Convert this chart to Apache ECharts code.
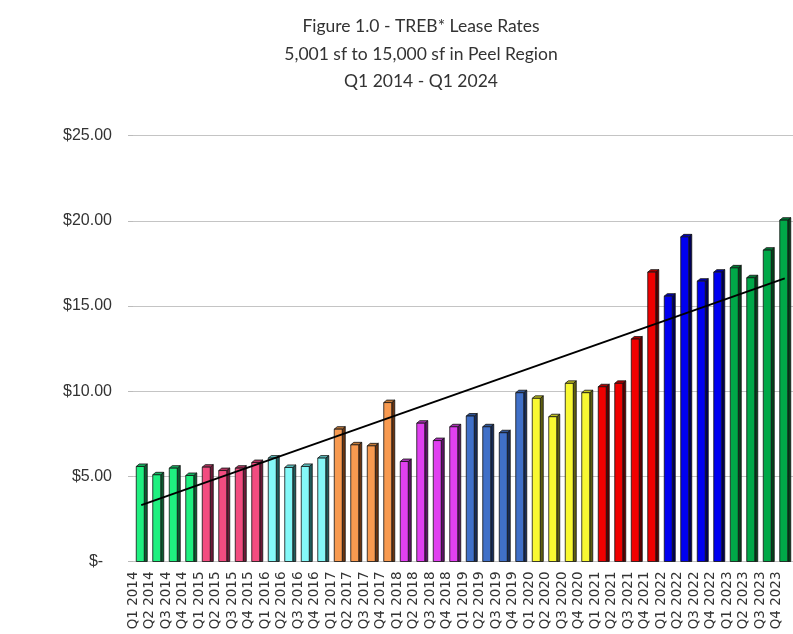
<!DOCTYPE html>
<html>
<head>
<meta charset="utf-8">
<script src="https://cdn.jsdelivr.net/npm/echarts@6/dist/echarts.min.js"></script>
<style>
  html, body { margin: 0; padding: 0; background: #fff; }
  #chart { width: 793px; height: 634px; }
</style>
</head>
<body>
<div id="chart"></div>
<script>
// ---- Data ----
const categories = [
  'Q1 2014','Q2 2014','Q3 2014','Q4 2014',
  'Q1 2015','Q2 2015','Q3 2015','Q4 2015',
  'Q1 2016','Q2 2016','Q3 2016','Q4 2016',
  'Q1 2017','Q2 2017','Q3 2017','Q4 2017',
  'Q1 2018','Q2 2018','Q3 2018','Q4 2018',
  'Q1 2019','Q2 2019','Q3 2019','Q4 2019',
  'Q1 2020','Q2 2020','Q3 2020','Q4 2020',
  'Q1 2021','Q2 2021','Q3 2021','Q4 2021',
  'Q1 2022','Q2 2022','Q3 2022','Q4 2022',
  'Q1 2023','Q2 2023','Q3 2023','Q4 2023'
];
const leaseRates = [
  5.58, 5.09, 5.48, 5.05,
  5.54, 5.34, 5.48, 5.81,
  6.07, 5.52, 5.58, 6.07,
  7.77, 6.85, 6.79, 9.33,
  5.87, 8.12, 7.10, 7.91,
  8.54, 7.91, 7.56, 9.91,
  9.58, 8.50, 10.46, 9.91,
  10.26, 10.46, 13.06, 16.99,
  15.58, 19.06, 16.46, 16.99,
  17.24, 16.66, 18.28, 20.04
];
// Linear trend line: start and end values
const trendStart = 3.31;
const trendEnd = 16.62;
const yTicks = { min: 0, max: 25, interval: 5 };
const titleLines = [
  'Figure 1.0 - TREB* Lease Rates',
  '5,001 sf to 15,000 sf in Peel Region',
  'Q1 2014 - Q1 2024'
];

// ---- Styles (one colour pair per year) ----
const frontColors = ['#1ff080','#f24c80','#84f8f8','#f89a50','#e040f0','#4070c8','#f8f832','#f00000','#0000f0','#00a848'];
const sideColors  = ['#0b5a30','#6e1a38','#1f5c5c','#6a3410','#5c1266','#172c58','#5e5e10','#5c0000','#000058','#053f1a'];
const topColors   = ['#16b060','#b03560','#5cc0c0','#c07838','#a830b4','#2f5496','#c0c020','#b00000','#0000b0','#007a34'];

const trendData = categories.map((c, i) => i === 0 ? trendStart : (i === categories.length - 1 ? trendEnd : null));

const chart = echarts.init(document.getElementById('chart'));
chart.setOption({
  animation: false,
  title: {
    text: titleLines.join('\n'),
    left: 416,
    top: 8,
    textAlign: 'center',
    textStyle: {
      fontFamily: 'Lato',
      fontSize: 17.5,
      fontWeight: 'normal',
      color: '#333',
      lineHeight: 27.5
    }
  },
  grid: { left: 133, right: -9, top: 135.7, bottom: 72.5 },
  xAxis: {
    type: 'category',
    data: categories,
    axisLine: { show: false },
    axisTick: { show: false },
    axisLabel: {
      interval: 0,
      rotate: 90,
      fontFamily: 'DejaVu Sans',
      fontSize: 13.5,
      color: '#333',
      margin: 10,
      lineHeight: 16,
      verticalAlign: 'bottom'
    }
  },
  yAxis: {
    type: 'value',
    min: yTicks.min,
    max: yTicks.max,
    interval: yTicks.interval,
    axisLine: { show: false },
    axisTick: { show: true, length: 5, lineStyle: { color: '#bbb' } },
    splitLine: { lineStyle: { color: '#c4c4c4', width: 1 } },
    axisLabel: {
      fontFamily: 'Liberation Sans',
      fontSize: 16,
      color: '#333',
      margin: 21,
      formatter: v => v === 0 ? '$-  ' : '$' + v.toFixed(2)
    }
  },
  series: [
    {
      type: 'custom',
      data: leaseRates.map((v, i) => [i, v]),
      encode: { x: 0, y: 1 },
      renderItem: function (params, api) {
        const g = Math.floor(params.dataIndex / 4);
        const p = api.coord([api.value(0), api.value(1)]);
        const b = api.coord([api.value(0), 0]);
        const cx = p[0], top = p[1], bot = b[1];
        const L = cx - 5, R = cx + 3, D = 3, DY = 2.5;
        const stroke = { stroke: '#111', lineWidth: 0.8 };
        return {
          type: 'group',
          children: [
            { type: 'polygon', shape: { points: [[R, top], [R + D, top - DY], [R + D, bot], [R, bot]] },
              style: Object.assign({ fill: sideColors[g] }, stroke) },
            { type: 'polygon', shape: { points: [[L, top], [L + D, top - DY], [R + D, top - DY], [R, top]] },
              style: Object.assign({ fill: topColors[g] }, stroke) },
            { type: 'rect', shape: { x: L, y: top, width: R - L, height: bot - top },
              style: Object.assign({ fill: frontColors[g] }, stroke) }
          ]
        };
      },
      z: 2
    },
    {
      type: 'line',
      data: trendData,
      connectNulls: true,
      symbol: 'none',
      lineStyle: { color: '#000', width: 2 },
      z: 5
    }
  ]
});
</script>
</body>
</html>
